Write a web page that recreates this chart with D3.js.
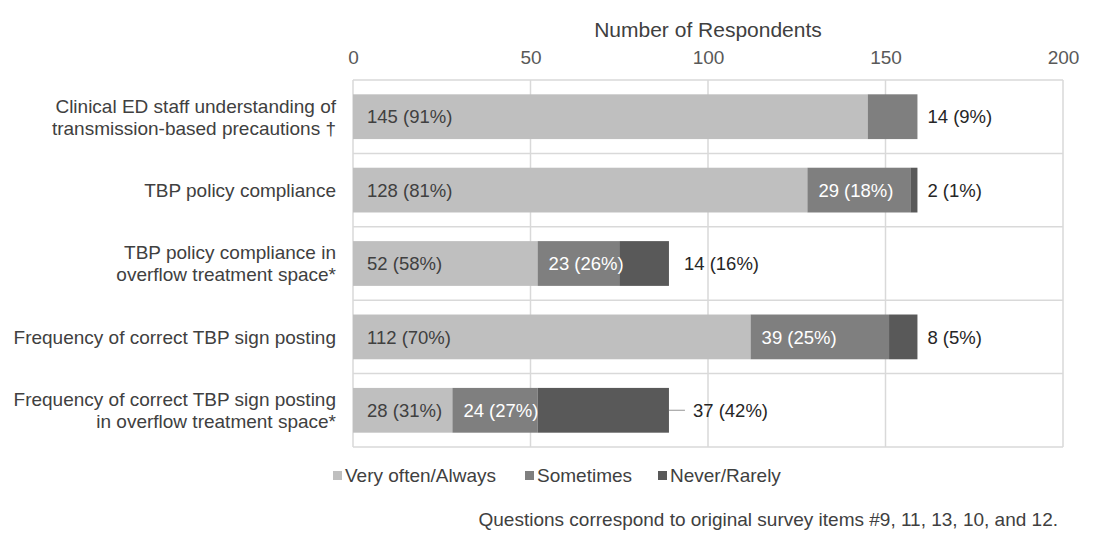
<!DOCTYPE html>
<html>
<head>
<meta charset="utf-8">
<script src="https://cdn.jsdelivr.net/npm/d3@7"></script>
<style>
  body { margin: 0; background: #fff; }
  text { font-family: "Liberation Sans", Arial, sans-serif; }
</style>
</head>
<body>
<script>
//survey items (top to bottom), each label split into lines
var categories = [
    ["Clinical ED staff understanding of", "transmission-based precautions \u2020"],
    ["TBP policy compliance"],
    ["TBP policy compliance in", "overflow treatment space*"],
    ["Frequency of correct TBP sign posting"],
    ["Frequency of correct TBP sign posting", "in overflow treatment space*"]
];
var seriesNames = ["Very often/Always", "Sometimes", "Never/Rarely"];
var veryOften = [145, 128, 52, 112, 28];
var sometimes = [14, 29, 23, 39, 24];
var neverRarely = [0, 2, 14, 8, 37];
var percents = [
    [91, 9, 0],
    [81, 18, 1],
    [58, 26, 16],
    [70, 25, 5],
    [31, 27, 42]
];
var xTicks = [0, 50, 100, 150, 200];

var width = 1101, height = 547;
var margin = {top: 80, left: 353, right: 38, bottom: 100};
var colors = ["#bfbfbf", "#7f7f7f", "#595959"];
var labelColors = ["#404040", "#ffffff", "#ffffff"];

var svg = d3.select("body").append("svg")
    .attr("width", width)
    .attr("height", height);

var x = d3.scaleLinear()
    .domain([0, 200])
    .range([margin.left, width - margin.right]);

var y = d3.scaleBand()
    .domain(d3.range(categories.length))
    .range([margin.top, height - margin.bottom])
    .paddingInner(0.39)
    .paddingOuter(0.195);

//build stacked rows
var rows = categories.map(function(c, i){
    return {i: i, v0: veryOften[i], v1: sometimes[i], v2: neverRarely[i]};
});
var stack = d3.stack().keys(["v0", "v1", "v2"]);
var series = stack(rows);

//gridlines
var step = y.step();
var top0 = margin.top, bottom0 = height - margin.bottom;
svg.append("g").selectAll("line")
    .data(xTicks)
    .enter().append("line")
    .attr("x1", function(d){ return x(d); })
    .attr("x2", function(d){ return x(d); })
    .attr("y1", top0).attr("y2", bottom0)
    .style("stroke", "#d9d9d9").style("stroke-width", 1.5);
svg.append("g").selectAll("line")
    .data(d3.range(categories.length + 1))
    .enter().append("line")
    .attr("x1", x(0)).attr("x2", x(200))
    .attr("y1", function(d){ return top0 + d * step; })
    .attr("y2", function(d){ return top0 + d * step; })
    .style("stroke", "#d9d9d9").style("stroke-width", 1.5);

//top axis
var xAxis = d3.axisTop(x).tickValues(xTicks).tickSize(0).tickPadding(16);
var ax = svg.append("g")
    .attr("transform", "translate(0," + top0 + ")")
    .call(xAxis);
ax.select(".domain").remove();
ax.selectAll("text")
    .style("font-size", "19px")
    .style("fill", "#595959")
    .style("font-family", "Liberation Sans, Arial, sans-serif");

svg.append("text")
    .attr("x", x(100))
    .attr("y", 37)
    .attr("text-anchor", "middle")
    .style("font-size", "21px")
    .style("fill", "#404040")
    .text("Number of Respondents");

//bars
var layers = svg.selectAll(".layer")
    .data(series)
    .enter().append("g")
    .attr("class", "layer")
    .style("fill", function(d, k){ return colors[k]; });
layers.selectAll("rect")
    .data(function(d){ return d; })
    .enter().append("rect")
    .attr("x", function(d){ return x(d[0]); })
    .attr("width", function(d){ return x(d[1]) - x(d[0]); })
    .attr("y", function(d){ return y(d.data.i); })
    .attr("height", y.bandwidth());

//data labels
series.forEach(function(s, k){
    s.forEach(function(d){
        var i = d.data.i;
        var val = d[1] - d[0];
        if (val === 0) return;
        var last = (k === 2) || (k === 1 && neverRarely[i] === 0);
        var cy = y(i) + y.bandwidth() / 2;
        var tx, col;
        if (last) {
            var end = x(d[1]);
            tx = end + 10;
            col = "#262626";
            if (val > 30) {
                //leader line for a label pushed out of the bar
                svg.append("line")
                    .attr("x1", end).attr("x2", end + 16)
                    .attr("y1", cy).attr("y2", cy)
                    .style("stroke", "#a6a6a6").style("stroke-width", 1.2);
                tx = end + 24;
            } else if (i === 2) {
                tx = end + 15;
            }
        } else {
            tx = x(d[0]) + (k === 0 ? 14 : 11);
            col = labelColors[k];
        }
        svg.append("text")
            .attr("x", tx)
            .attr("y", cy)
            .attr("dy", "0.36em")
            .style("font-size", "18.5px")
            .style("fill", col)
            .text(val + " (" + percents[i][k] + "%)");
    });
});

//category labels
categories.forEach(function(lines, i){
    var cy = y(i) + y.bandwidth() / 2;
    var lh = 22;
    var t = svg.append("text")
        .attr("text-anchor", "end")
        .style("font-size", "19px")
        .style("fill", "#404040");
    lines.forEach(function(line, j){
        t.append("tspan")
            .attr("x", 336)
            .attr("y", cy + (j - (lines.length - 1) / 2) * lh)
            .attr("dy", "0.36em")
            .text(line);
    });
});

//legend
var legendX = [333, 525, 658];
var legend = svg.selectAll(".legend")
    .data(seriesNames)
    .enter().append("g")
    .attr("class", "legend")
    .attr("transform", function(d, k){ return "translate(" + legendX[k] + ",475)"; });
legend.append("rect")
    .attr("x", 0).attr("y", -4)
    .attr("width", 9).attr("height", 9)
    .style("fill", function(d, k){ return colors[k]; });
legend.append("text")
    .attr("x", 12)
    .attr("y", 0)
    .attr("dy", "0.36em")
    .style("font-size", "19px")
    .style("fill", "#404040")
    .text(function(d){ return d; });

//footnote
svg.append("text")
    .attr("x", 1058)
    .attr("y", 519)
    .attr("dy", "0.36em")
    .attr("text-anchor", "end")
    .style("font-size", "19px")
    .style("fill", "#404040")
    .text("Questions correspond to original survey items #9, 11, 13, 10, and 12.");
</script>
</body>
</html>
